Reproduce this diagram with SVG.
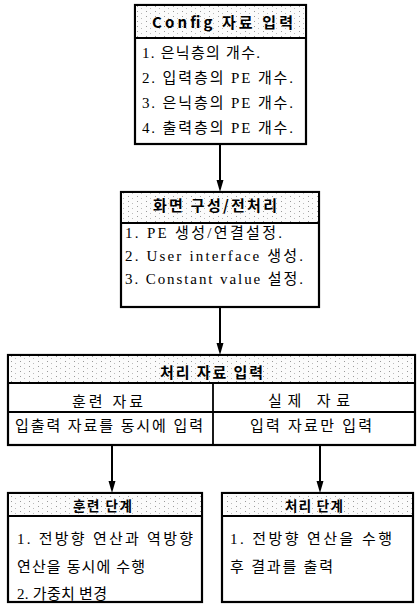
<svg xmlns="http://www.w3.org/2000/svg" width="417" height="604" viewBox="0 0 417 604">
<style>
.box{fill:#fff;stroke:#000;stroke-width:2.2}
.hdr{fill:url(#stip);stroke:#000;stroke-width:2}
.ln{stroke:#000;stroke-width:1.8;fill:none}
.t{font-family:"Liberation Serif","Noto Sans CJK KR",serif;font-size:15px;fill:#000}
.h{font-family:"Noto Sans CJK KR","DejaVu Sans",sans-serif;font-size:15px;font-weight:bold;fill:#000}
.hs{font-size:13.5px}
.c{stroke:#000;stroke-width:2;fill:none}
</style>
<defs>
<pattern id="stip" width="9" height="5" patternUnits="userSpaceOnUse">
<rect width="9" height="5" fill="#fbfbfb"/>
<rect x="2" y="1" width="1" height="1" fill="#999"/>
<rect x="6" y="3" width="1" height="1" fill="#bbb"/>
</pattern>
</defs>

<g id="connectors">
<line class="c" x1="220" y1="145" x2="220" y2="180"/>
<path d="M216.5,180 L223.5,180 L220,192 Z" fill="#000"/>
<line class="c" x1="220" y1="308" x2="220" y2="343"/>
<path d="M216.5,343 L223.5,343 L220,355 Z" fill="#000"/>
<line class="c" x1="112" y1="446" x2="112" y2="481"/>
<path d="M108.5,481 L115.5,481 L112,493 Z" fill="#000"/>
<line class="c" x1="320" y1="446" x2="320" y2="481"/>
<path d="M316.5,481 L323.5,481 L320,493 Z" fill="#000"/>
</g>

<g id="config">
<rect class="box" x="135" y="5" width="171" height="139"/>
<rect class="hdr" x="135" y="5" width="171" height="33"/>
<text class="h" x="152" y="28" textLength="141" lengthAdjust="spacing">Config 자료 입력</text>
<text class="t" x="142" y="58" textLength="118" lengthAdjust="spacing">1. 은닉층의 개수.</text>
<text class="t" x="142" y="83" textLength="151" lengthAdjust="spacing">2. 입력층의 PE 개수.</text>
<text class="t" x="142" y="108" textLength="151" lengthAdjust="spacing">3. 은닉층의 PE 개수.</text>
<text class="t" x="142" y="133" textLength="151" lengthAdjust="spacing">4. 출력층의 PE 개수.</text>
</g>

<g id="screen">
<rect class="box" x="121" y="192" width="198" height="115"/>
<rect class="hdr" x="121" y="192" width="198" height="31"/>
<text class="h" x="153" y="211" textLength="124" lengthAdjust="spacing">화면 구성/전처리</text>
<text class="t" x="125" y="238" textLength="157" lengthAdjust="spacing">1. PE 생성/연결설정.</text>
<text class="t" x="125" y="261" textLength="178" lengthAdjust="spacing">2. User interface 생성.</text>
<text class="t" x="125" y="284" textLength="178" lengthAdjust="spacing">3. Constant value 설정.</text>
</g>

<g id="input">
<rect class="box" x="8" y="355" width="407" height="90"/>
<rect class="hdr" x="8" y="355" width="407" height="28"/>
<line class="ln" x1="8" y1="412" x2="415" y2="412"/>
<line class="ln" x1="213" y1="383" x2="213" y2="445"/>
<text class="h" x="160" y="378" textLength="103" lengthAdjust="spacing">처리 자료 입력</text>
<text class="t" x="72" y="407" textLength="71" lengthAdjust="spacing">훈련 자료</text>
<text class="t" x="268" y="406" textLength="82" lengthAdjust="spacing">실제 자료</text>
<text class="t" x="15" y="431" textLength="188" lengthAdjust="spacing">입출력 자료를 동시에 입력</text>
<text class="t" x="250" y="431" textLength="122" lengthAdjust="spacing">입력 자료만 입력</text>
</g>

<g id="train">
<rect class="box" x="8" y="493" width="194" height="109"/>
<rect class="hdr" x="8" y="493" width="194" height="23"/>
<text class="h hs" x="73" y="511" textLength="59" lengthAdjust="spacing">훈련 단계</text>
<text class="t" x="17" y="544" textLength="176" lengthAdjust="spacing">1. 전방향 연산과 역방향</text>
<text class="t" x="17" y="572" textLength="128" lengthAdjust="spacing">연산을 동시에 수행</text>
<text class="t" x="17" y="599" textLength="90" lengthAdjust="spacing">2. 가중치 변경</text>
</g>

<g id="process">
<rect class="box" x="222" y="493" width="191" height="109"/>
<rect class="hdr" x="222" y="493" width="191" height="23"/>
<text class="h hs" x="285" y="511" textLength="58" lengthAdjust="spacing">처리 단계</text>
<text class="t" x="230" y="544" textLength="162" lengthAdjust="spacing">1. 전방향 연산을 수행</text>
<text class="t" x="230" y="572" textLength="103" lengthAdjust="spacing">후 결과를 출력</text>
</g>
</svg>
